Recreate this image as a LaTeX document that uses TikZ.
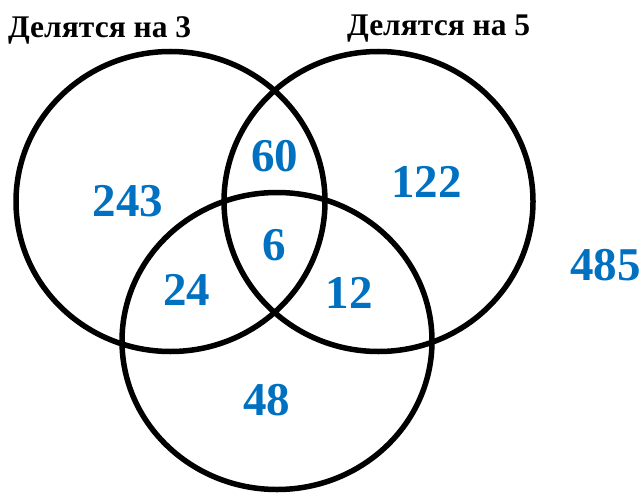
\documentclass[tikz,border=0pt]{standalone}
\usepackage{fontspec}
\setmainfont{Liberation Serif}
\definecolor{numblue}{HTML}{0070C0}
\tikzset{
  ring/.style={draw=black, line width=5.5pt},
  num/.style={text=numblue, font=\fontsize{47}{47}\selectfont\bfseries, inner sep=0pt, anchor=center},
  title/.style={text=black, font=\fontsize{31.5}{31.5}\selectfont\bfseries, inner sep=0pt, anchor=base west}
}
\begin{document}
\begin{tikzpicture}[x=1pt, y=-1pt]
\useasboundingbox (0,0) rectangle (644,492);
% sets
\draw[ring] (170.5,201.5) ellipse [x radius=154.5pt, y radius=150pt];
\draw[ring] (378.5,201.5) ellipse [x radius=154.5pt, y radius=150pt];
\draw[ring] (277,341) ellipse [x radius=155pt, y radius=148.5pt];
% titles
\node[title] (t3) at (8,38) {Делятся на 3};
\node[title] (t5) at (347,36) {Делятся на 5};
% counts
\node[num] (n243) at (128,201) {243};
\node[num] (n60) at (274.5,156.5) {60};
\node[num] (n122) at (426.5,181.5) {122};
\node[num] (n6) at (274,245.5) {6};
\node[num] (n24) at (186.5,289.5) {24};
\node[num] (n12) at (349,292.5) {12};
\node[num] (n48) at (266.5,400.5) {48};
\node[num] (n485) at (605.5,265) {485};
\end{tikzpicture}
\end{document}
